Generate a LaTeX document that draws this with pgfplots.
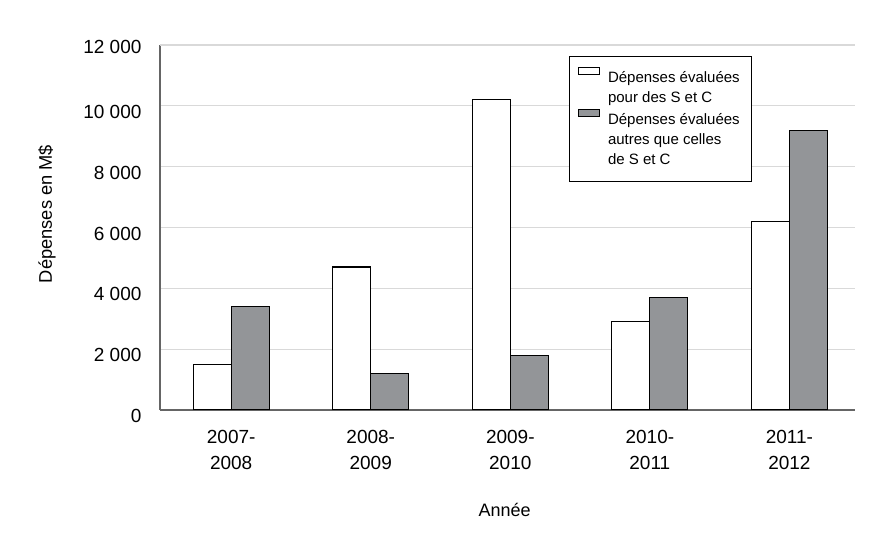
\documentclass[border=0pt]{standalone}
\usepackage{fontspec}
\setmainfont{Liberation Sans}
\usepackage{pgfplots}
\pgfplotsset{compat=1.18}
\definecolor{barg}{HTML}{939598}
\definecolor{gridg}{HTML}{D9D9D9}
\definecolor{axg}{HTML}{656565}
\pgfplotsset{
  legimg/.style={legend image code/.code={\draw[##1, draw=black, line width=1.1pt] (0pt,4.6pt) rectangle (21pt,11.6pt);}},
}
\begin{document}
\begin{tikzpicture}[x=1pt,y=1pt]
\path[use as bounding box] (0,0) rectangle (893,548);
\begin{axis}[
  at={(160pt,138pt)}, anchor=south west,
  width=695pt, height=365pt, scale only axis,
  ymin=0, ymax=12000, ytick={0,2000,4000,6000,8000,10000},
  extra y ticks={12000},
  extra y tick style={grid=major, yticklabel style={yshift=4.3pt}},
  scaled y ticks=false,
  xmin=-0.51, xmax=4.47, xtick={0,1,2,3,4},
  xticklabels={{2007-\\2008},{2008-\\2009},{2009-\\2010},{2010-\\2011},{2011-\\2012}},
  axis x line*=bottom, axis y line*=left,
  axis line style={-},
  x axis line style={axg, line width=2.4pt},
  y axis line style={axg, line width=1.6pt},
  major tick length=0pt,
  ymajorgrids, grid style={gridg, line width=1.2pt},
  /pgf/number format/assume math mode=true,
  /pgf/number format/1000 sep={\ },
  ticklabel style={font=\fontsize{19}{26}\selectfont},
  x tick label style={align=center, yshift=-17pt},
  y tick label style={xshift=-15pt, yshift=-6pt},
  xlabel={Année},
  ylabel={Dépenses en M\$},
  every axis x label/.style={at={(axis description cs:0.496,-0.274)}, anchor=center, font=\fontsize{18}{22}\selectfont},
  every axis y label/.style={at={(axis description cs:-0.1626,0.537)}, anchor=center, rotate=90, font=\fontsize{18.3}{22}\selectfont},
  ybar=0pt, bar width=38pt,
  legend style={at={(axis description cs:0.5885,0.9707)}, anchor=north west,
    draw=black, line width=1.2pt, fill=white,
    font=\fontsize{15}{19.7}\selectfont,
    inner xsep=8.7pt, inner ysep=10.5pt, column sep=4.6pt, row sep=0pt,
    nodes={inner xsep=3pt, inner ysep=3pt, text height=10.8pt, text depth=3.2pt}},
  legend cell align=left,
]
\addplot[forget plot, bar shift=-19pt, draw=black, fill=white, line width=1.2pt] coordinates {(0,1500) (1,4700) (2,10200) (3,2900) (4,6200)};
\addplot[forget plot, bar shift=19pt, draw=black, fill=barg, line width=1.2pt] coordinates {(0,3400) (1,1200) (2,1800) (3,3700) (4,9200)};
\addlegendimage{legimg, fill=white}
\addlegendentry{Dépenses évaluées}
\addlegendimage{empty legend}
\addlegendentry{pour des S et C}
\addlegendimage{legimg, fill=barg}
\addlegendentry{Dépenses évaluées}
\addlegendimage{empty legend}
\addlegendentry{autres que celles}
\addlegendimage{empty legend}
\addlegendentry{de S et C}
\end{axis}
\end{tikzpicture}
\end{document}
